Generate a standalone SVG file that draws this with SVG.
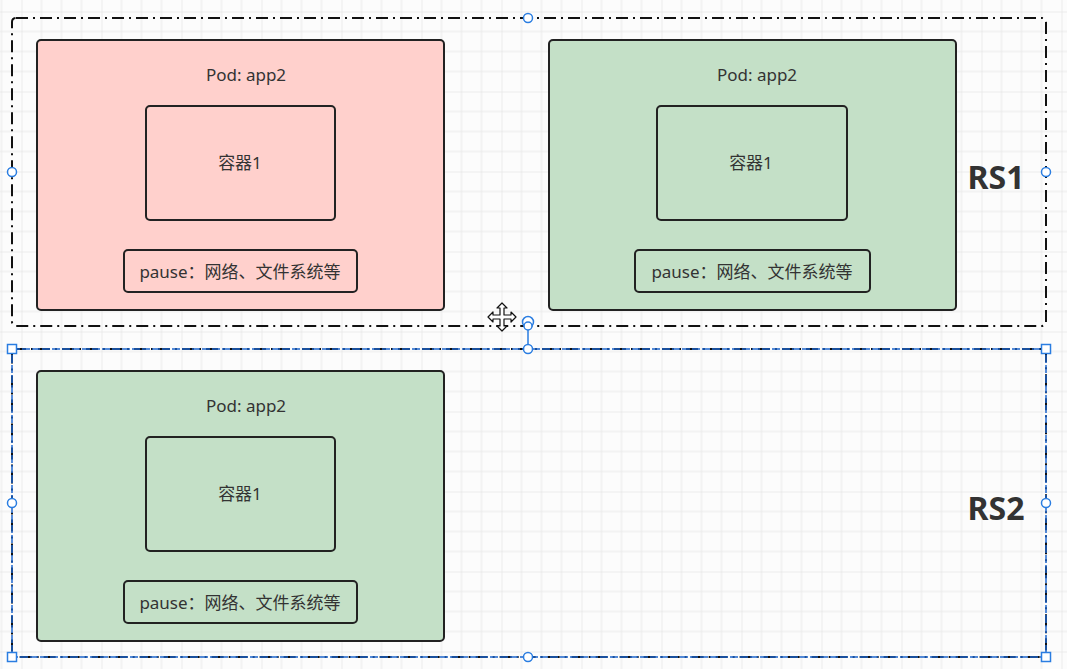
<svg xmlns="http://www.w3.org/2000/svg" width="1067" height="669" viewBox="0 0 1067 669">
<defs>
<pattern id="grid" patternUnits="userSpaceOnUse" x="21.5" y="11.5" width="80" height="80">
<path d="M20 0V80M40 0V80M60 0V80M0 20H80M0 40H80M0 60H80" stroke="#e9e9e9" stroke-width="1" fill="none"/>
<path d="M0 0V80M0 0H80" stroke="#dddddd" stroke-width="1" fill="none"/>
</pattern>
</defs>
<style>
.pod{stroke:#222;stroke-width:2}
.red{fill:#ffd0cc}
.green{fill:#c4e0c7}
.box{fill:none;stroke:#222;stroke-width:2}
.t{font-family:"Noto Sans","Noto Sans CJK SC",sans-serif;font-size:17px;fill:#333;text-anchor:middle;dominant-baseline:central}
.rs{font-family:"Noto Sans","Liberation Sans",sans-serif;font-size:32px;font-weight:bold;fill:#333;text-anchor:middle;dominant-baseline:central}
.frame{fill:none;stroke:#111;stroke-width:2;stroke-dasharray:12 5 2 5}
.sel{fill:none;stroke:#1e66cc;stroke-width:1.5;stroke-dasharray:8 2}
.h{fill:#fff;stroke:#2a7de1;stroke-width:1.5}
</style>
<rect width="1067" height="669" fill="#fcfcfc"/>
<rect width="1067" height="669" fill="url(#grid)"/>

<g id="rs1">
<rect class="frame" x="12" y="18" width="1034" height="308" rx="4"/>
<text class="rs" x="996" y="176">RS1</text>
</g>

<g id="rs2">
<rect class="frame" x="12" y="349" width="1034" height="308" rx="2"/>
<rect class="sel" x="12" y="349" width="1034" height="308"/>
<text class="rs" x="996" y="507">RS2</text>
</g>

<g id="pod1">
<rect class="pod red" x="37" y="40" width="407" height="270" rx="4"/>
<text class="t" x="246" y="74">Pod: app2</text>
<rect class="box" x="146" y="106" width="189" height="114" rx="4"/>
<text class="t" x="240" y="162">容器1</text>
<rect class="box" x="124" y="250" width="233" height="42" rx="4"/>
<text class="t" x="240" y="271">pause：网络、文件系统等</text>
</g>

<g id="pod2">
<rect class="pod green" x="549" y="40" width="407" height="270" rx="4"/>
<text class="t" x="757" y="74">Pod: app2</text>
<rect class="box" x="657" y="106" width="190" height="114" rx="4"/>
<text class="t" x="751" y="162">容器1</text>
<rect class="box" x="635" y="250" width="235" height="42" rx="4"/>
<text class="t" x="752" y="271">pause：网络、文件系统等</text>
</g>

<g id="pod3">
<rect class="pod green" x="37" y="371" width="407" height="270" rx="4"/>
<text class="t" x="246" y="405">Pod: app2</text>
<rect class="box" x="146" y="437" width="189" height="114" rx="4"/>
<text class="t" x="240" y="493">容器1</text>
<rect class="box" x="124" y="581" width="233" height="42" rx="4"/>
<text class="t" x="240" y="602">pause：网络、文件系统等</text>
</g>

<g id="handles">
<circle class="h" cx="528" cy="18" r="4.5"/>
<circle class="h" cx="12" cy="172" r="4.5"/>
<circle class="h" cx="1046" cy="172" r="4.5"/>
<line x1="528" y1="326" x2="528" y2="349" stroke="#2a7de1" stroke-width="1.5"/>
<circle class="h" cx="528" cy="322" r="5.5"/>
<circle class="h" cx="528" cy="326" r="4"/>
<circle class="h" cx="528" cy="349" r="4.5"/>
<circle class="h" cx="528" cy="657" r="4.5"/>
<circle class="h" cx="12" cy="503" r="4.5"/>
<circle class="h" cx="1046" cy="503" r="4.5"/>
<rect class="h" x="7.5" y="344.5" width="9" height="9"/>
<rect class="h" x="1041.5" y="344.5" width="9" height="9"/>
<rect class="h" x="7.5" y="652.5" width="9" height="9"/>
<rect class="h" x="1041.5" y="652.5" width="9" height="9"/>
</g>

<g id="cursor">
<path d="M502 303 L507 308 H504 V315 H511 V312 L516 317 L511 322 V319 H504 V326 H507 L502 331 L497 326 H500 V319 H493 V322 L488 317 L493 312 V315 H500 V308 H497 Z" fill="#fff" stroke="#111" stroke-width="1.2" stroke-linejoin="round"/>
</g>
</svg>
